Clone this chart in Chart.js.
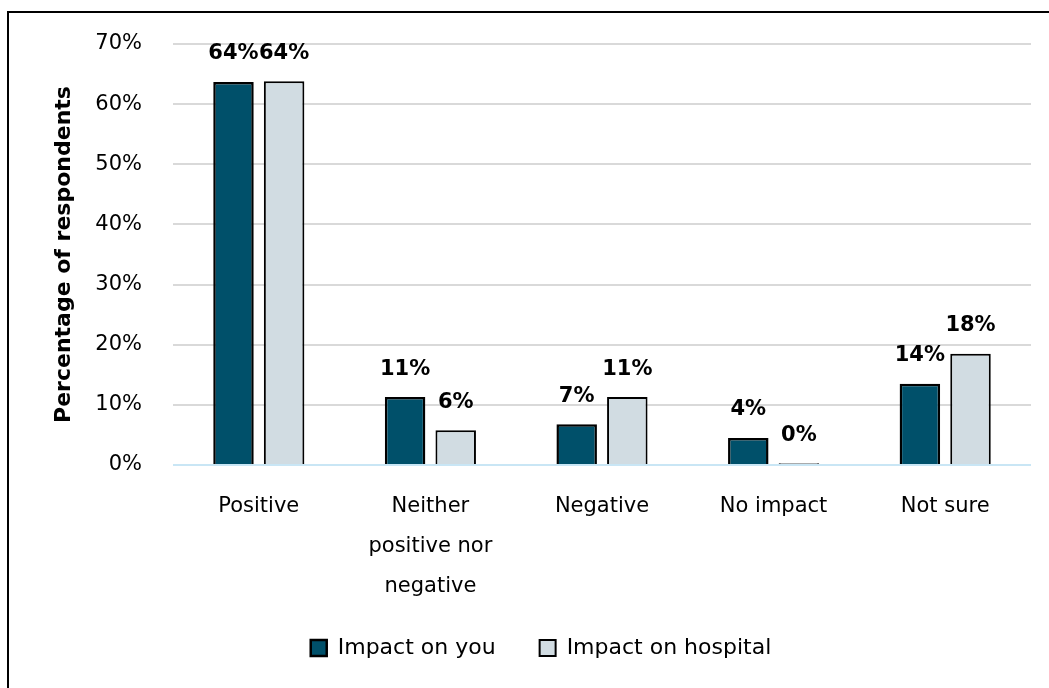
<!DOCTYPE html>
<html>
<head>
<meta charset="utf-8">
<script src="https://cdn.jsdelivr.net/npm/chart.js@4.4.1/dist/chart.umd.min.js"></script>
<style>
  body { margin: 0; background: #fff; overflow: hidden; }
  #wrap { position: relative; width: 1049px; height: 688px; }
  #frame { position: absolute; left: 7px; top: 11px; width: 1100px; height: 760px; border: 2px solid #000; box-sizing: border-box; }
  canvas { position: absolute; left: 0; top: 0; }
</style>
</head>
<body>
<div id="wrap">
  <div id="frame"></div>
  <canvas id="myChart" width="1049" height="688"></canvas>
</div>
<script>
var categories = ['Positive', ['Neither', 'positive nor', 'negative'], 'Negative', 'No impact', 'Not sure'];
var impactYou = [63.7, 11.3, 6.8, 4.5, 13.5];
var impactHospital = [63.8, 5.8, 11.3, 0.3, 18.5];
var labelsYou = ['64%', '11%', '7%', '4%', '14%'];
var labelsHospital = ['64%', '6%', '11%', '0%', '18%'];
var yTicks = [0, 10, 20, 30, 40, 50, 60, 70];

var fontName = '"DejaVu Sans", sans-serif';
Chart.defaults.font.family = fontName;
Chart.defaults.color = '#000';

// draws the value text above each bar
var barLabels = {
    id: 'barLabels',
    afterDatasetsDraw: function(chart) {
        var ctx = chart.ctx;
        var texts = [labelsYou, labelsHospital];
        ctx.save();
        ctx.font = 'bold 21px ' + fontName;
        ctx.fillStyle = '#000';
        ctx.textAlign = 'center';
        ctx.textBaseline = 'middle';
        chart.data.datasets.forEach(function(ds, i) {
            chart.getDatasetMeta(i).data.forEach(function(bar, j) {
                ctx.fillText(texts[i][j], bar.x, bar.y - 28);
            });
        });
        ctx.restore();
    }
};

// legend padding also sets the gap between items; take back some of the height it adds
var squeeze = 27;
var legendSqueeze = {
    id: 'legendSqueeze',
    beforeLayout: function(chart) {
        var lg = chart.legend;
        if (!lg || lg._squeezed) return;
        lg._squeezed = true;
        var fit = lg.fit, draw = lg.draw;
        lg.fit = function() { fit.call(this); this.height -= squeeze; };
        lg.draw = function() { this.top -= squeeze; draw.apply(this, arguments); this.top += squeeze; };
    }
};

var ctx1 = document.getElementById('myChart').getContext('2d');
var myChart = new Chart(ctx1, {
    type: 'bar',
    data: {
        labels: categories,
        datasets: [{
            label: 'Impact on you',
            data: impactYou,
            backgroundColor: '#00506A',
            borderColor: '#000',
            borderWidth: 2.5,
            barPercentage: 0.8,
            categoryPercentage: 0.59
        }, {
            label: 'Impact on hospital',
            data: impactHospital,
            backgroundColor: '#D1DCE2',
            borderColor: '#000',
            borderWidth: 2,
            barPercentage: 0.8,
            categoryPercentage: 0.59
        }]
    },
    options: {
        responsive: false,
        animation: false,
        layout: {
            padding: { left: 51, right: 18, top: 44, bottom: 19 }
        },
        scales: {
            x: {
                grid: { display: false },
                border: { display: false },
                ticks: {
                    font: { size: 21, lineHeight: 1.92 },
                    padding: 13,
                    maxRotation: 0,
                    autoSkip: false
                }
            },
            y: {
                min: 0,
                max: 70,
                afterFit: function(scale) { scale.width = 122; },
                afterBuildTicks: function(scale) {
                    scale.ticks = yTicks.map(function(v) { return { value: v }; });
                },
                border: { display: false },
                grid: {
                    drawTicks: false,
                    lineWidth: 2,
                    color: function(c) { return c.tick && c.tick.value === 0 ? '#C9E6F5' : '#D9D9D9'; }
                },
                ticks: {
                    font: { size: 21 },
                    padding: 31,
                    callback: function(v) { return v + '%'; }
                },
                title: {
                    display: true,
                    text: 'Percentage of respondents',
                    font: { size: 22, weight: 'bold' },
                    padding: { top: 0, bottom: 0 }
                }
            }
        },
        plugins: {
            legend: {
                position: 'bottom',
                labels: {
                    font: { size: 22 },
                    boxWidth: 16,
                    boxHeight: 16,
                    padding: 44,
                    useBorderRadius: false
                }
            },
            tooltip: { enabled: false }
        }
    },
    plugins: [barLabels, legendSqueeze]
});
</script>
</body>
</html>
